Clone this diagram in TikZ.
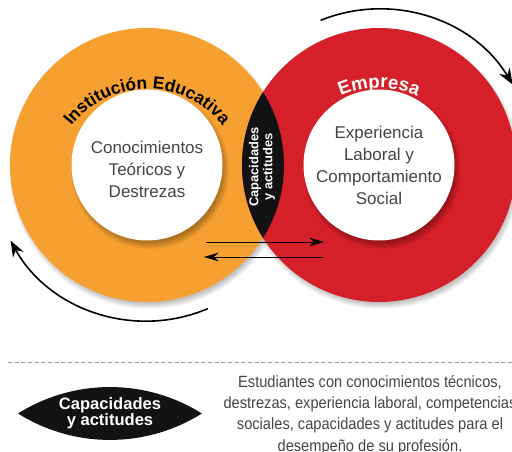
\documentclass[tikz,border=0pt]{standalone}
\usepackage{fontspec}
\setmainfont{Liberation Sans}
\newfontfamily\condfont[FakeStretch=0.9]{Liberation Sans}
\usetikzlibrary{arrows.meta,decorations.text}
\definecolor{naranja}{HTML}{F5A030}
\definecolor{rojo}{HTML}{D52029}
\definecolor{lente}{HTML}{121212}
\definecolor{gristexto}{HTML}{454545}

\begin{document}
\begin{tikzpicture}[x=0.75pt,y=0.75pt]
    \tikzset{font={\fontsize{12.75pt}{16.5pt}\selectfont},
      flow/.style={-{Stealth[length=11pt,width=6.5pt]},line width=.7pt},
      giro/.style={-{Stealth[length=12pt,width=9pt]},line width=1.2pt},
      sombra/.style={black,opacity=.04}}
    \useasboundingbox (0,0) rectangle (512,452);
    \coordinate (inst) at (147,287);
    \coordinate (emp) at (379,287);
    % sombras de los anillos
    \foreach \s in {1,...,7}{
      \fill[sombra] ([shift={(2,-4)}]inst) circle[radius=133+\s];
      \fill[sombra] ([shift={(2,-4)}]emp) circle[radius=133+\s];}
    \fill[naranja] (inst) circle[radius=137];
    \fill[rojo] (emp) circle[radius=137];
    \begin{scope}
      \clip (inst) circle[radius=137];
      \fill[lente] (emp) circle[radius=137];
    \end{scope}
    % circulos interiores
    \foreach \s in {1,...,8}{
      \fill[sombra] ([shift={(3,-5)}]inst) circle[radius=71+\s];
      \fill[sombra] ([shift={(3,-5)}]emp) circle[radius=71+\s];}
    \fill[white] (inst) circle[radius=75.5];
    \fill[white] (emp) circle[radius=75.5];
    \node[align=center,text=gristexto] (saber) at (147,283)
      {Conocimientos\\Teóricos y\\Destrezas};
    \node[align=center,text=gristexto] (hacer) at (379,287)
      {Experiencia\\Laboral y\\Comportamiento\\Social};
    \node[rotate=90,align=center,text=white,
      font=\bfseries\fontsize{9.7pt}{10.5pt}\selectfont] (capac) at (262,285)
      {Capacidades\\y actitudes};
    % textos curvos
    \coordinate (instarc) at (147,267);
    \coordinate (emparc) at (379,270);
    \path[decorate,decoration={text along path,text align=center,
      text={|\bfseries\fontsize{13pt}{14pt}\selectfont|Institución Educativa}}]
      (instarc) ++(170:96) arc[start angle=170,end angle=10,radius=96];
    \path[decorate,decoration={text along path,text align=center,text color=white,
      text={|\bfseries\fontsize{14pt}{16pt}\selectfont|Empresa}}]
      (emparc) ++(150:94) arc[start angle=150,end angle=30,radius=94];
    % flechas
    \coordinate (vaA) at (206,210);
    \coordinate (vaB) at (324,210);
    \coordinate (vuA) at (323,195);
    \coordinate (vuB) at (204,195);
    \draw[flow] (vaA) -- (vaB);
    \draw[flow] (vuA) -- (vuB);
    \coordinate (giroE) at ([shift={(112:156)}]emp);
    \coordinate (giroI) at ([shift={(-67:156)}]inst);
    \draw[giro] (giroE) arc[start angle=112,end angle=31,radius=156];
    \draw[giro] (giroI) arc[start angle=-67,end angle=-151,radius=156];
    % leyenda
    \coordinate (corteA) at (8,90);
    \coordinate (corteB) at (512,90);
    \draw[gray!80,line width=.6pt,dash pattern=on 3pt off 2pt] (corteA) -- (corteB);
    \coordinate (leyenda) at (110,38.5);
    \fill[lente] ([shift={(-92,0)}]leyenda) arc[start angle=122.1,end angle=57.9,radius=173]
      arc[start angle=-57.9,end angle=-122.1,radius=173] -- cycle;
    \node[align=center,text=white,font=\bfseries\fontsize{12.4pt}{12.3pt}\selectfont]
      (leyendatxt) at (leyenda) {Capacidades\\y actitudes};
    \node[align=center,text=gristexto,font=\condfont\fontsize{12.2pt}{16pt}\selectfont]
      (perfil) at (370,37) {Estudiantes con conocimientos técnicos,\\
      destrezas, experiencia laboral, competencias\\
      sociales, capacidades y actitudes para el\\
      desempeño de su profesión.};
\end{tikzpicture}
\end{document}
